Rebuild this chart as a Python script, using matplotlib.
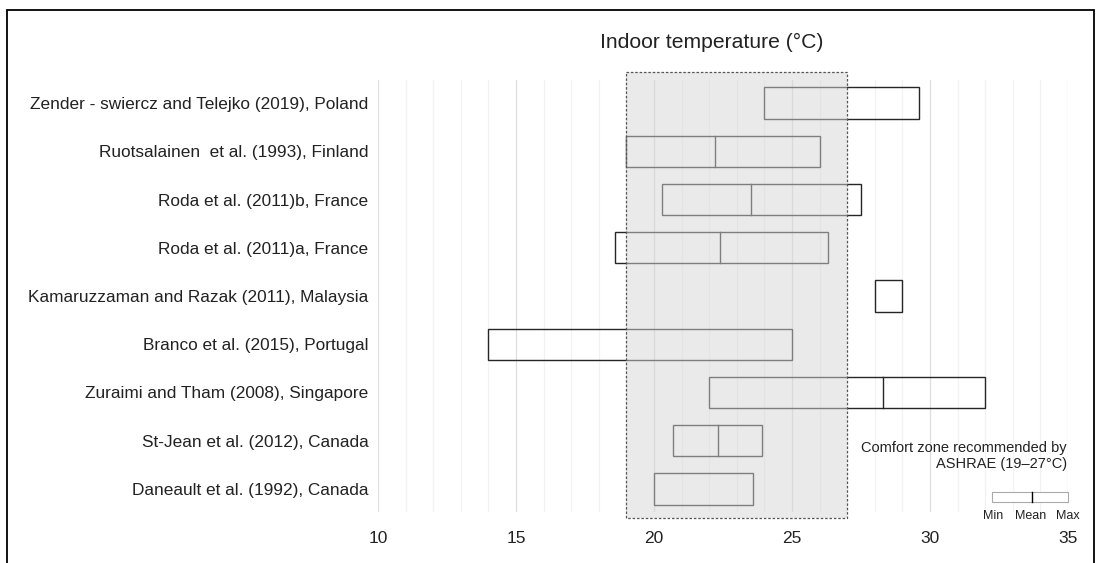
import matplotlib
matplotlib.use("Agg")
import matplotlib.pyplot as plt
from matplotlib.patches import Rectangle

plt.rcParams['font.family'] = ['Liberation Sans', 'DejaVu Sans']

# Datos (temperatura interior, °C)
estudios = [
    "Zender - swiercz and Telejko (2019), Poland",
    "Ruotsalainen  et al. (1993), Finland",
    "Roda et al. (2011)b, France",
    "Roda et al. (2011)a, France",
    "Kamaruzzaman and Razak (2011), Malaysia",
    "Branco et al. (2015), Portugal",
    "Zuraimi and Tham (2008), Singapore",
    "St-Jean et al. (2012), Canada",
    "Daneault et al. (1992), Canada",
]
t_min = [24.0, 19.0, 20.3, 18.6, 28.0, 14.0, 22.0, 20.7, 20.0]
t_media = [None, 22.2, 23.5, 22.4, None, None, 28.3, 22.3, None]
t_max = [29.6, 26.0, 27.5, 26.3, 29.0, 25.0, 32.0, 23.9, 23.6]

zona_confort = (19, 27)
ticks_x = [10, 15, 20, 25, 30, 35]

fig = plt.figure(figsize=(10.96, 5.63), dpi=100)
ax = fig.add_axes([0.3449, 0.0906, 0.6296, 0.7673])

alto = 0.65
borde = '#262626'
for i, nombre in enumerate(estudios):
    ax.add_patch(Rectangle((t_min[i], i - alto / 2), t_max[i] - t_min[i], alto,
                           facecolor='none', edgecolor=borde, lw=1.0, zorder=3))
    if t_media[i] is not None:
        ax.plot([t_media[i], t_media[i]], [i - alto / 2, i + alto / 2],
                color=borde, lw=1.0, zorder=3)

# Zona de confort (ASHRAE) superpuesta
ax.add_patch(Rectangle((zona_confort[0], -0.646), zona_confort[1] - zona_confort[0], 9.25,
                       facecolor='#d6d6d6', alpha=0.5, edgecolor='none',
                       zorder=4, clip_on=False))
ax.add_patch(Rectangle((zona_confort[0], -0.646), zona_confort[1] - zona_confort[0], 9.25,
                       facecolor='none', edgecolor='#555555', lw=0.9,
                       linestyle=(0, (2, 1.5)), zorder=5, clip_on=False))

# Rejilla
for x in range(10, 36):
    c = '#dedede' if x % 5 == 0 else '#f2f2f2'
    ax.axvline(x, color=c, lw=0.9, zorder=1)

ax.set_xlim(10, 35)
ax.set_ylim(8.48, -0.48)
ax.set_xticks(ticks_x)
ax.set_xticklabels([str(t) for t in ticks_x], fontsize=12.5, color='#222222')
ax.set_yticks(range(len(estudios)))
ax.set_yticklabels(estudios, fontsize=12.4, color='#222222')
ax.tick_params(length=0, pad=7)
ax.tick_params(axis='x', pad=14)
for s in ax.spines.values():
    s.set_visible(False)

ax.text(22.1, 1.086, 'Indoor temperature (°C)', transform=ax.get_xaxis_transform(),
        ha='center', va='center', fontsize=15.2, color='#222222')

# Leyenda
tr = ax.get_xaxis_transform()
ax.text(34.95, 0.13, 'Comfort zone recommended by\nASHRAE (19\u201327°C)', transform=tr,
        ha='right', va='center', fontsize=10.5, color='#222222', linespacing=1.15)
ax.add_patch(Rectangle((32.25, 0.023), 2.75, 0.023, transform=tr, facecolor='white',
                       edgecolor='#aaaaaa', lw=0.8, zorder=6, clip_on=False))
ax.plot([33.7, 33.7], [0.023, 0.046], transform=tr, color='black', lw=1.0,
        zorder=7, clip_on=False)
for x, t in [(32.3, 'Min'), (33.65, 'Mean'), (35.0, 'Max')]:
    ax.text(x, -0.01, t, transform=tr, ha='center', va='center', fontsize=9,
            color='#222222')

# Marco exterior
fig.add_artist(Rectangle((7 / 1096, -0.02), 1087 / 1096, (553 / 563) + 0.02,
                         transform=fig.transFigure, facecolor='none',
                         edgecolor='black', lw=1.3, clip_on=False))

fig.savefig('out.png', dpi=100)
